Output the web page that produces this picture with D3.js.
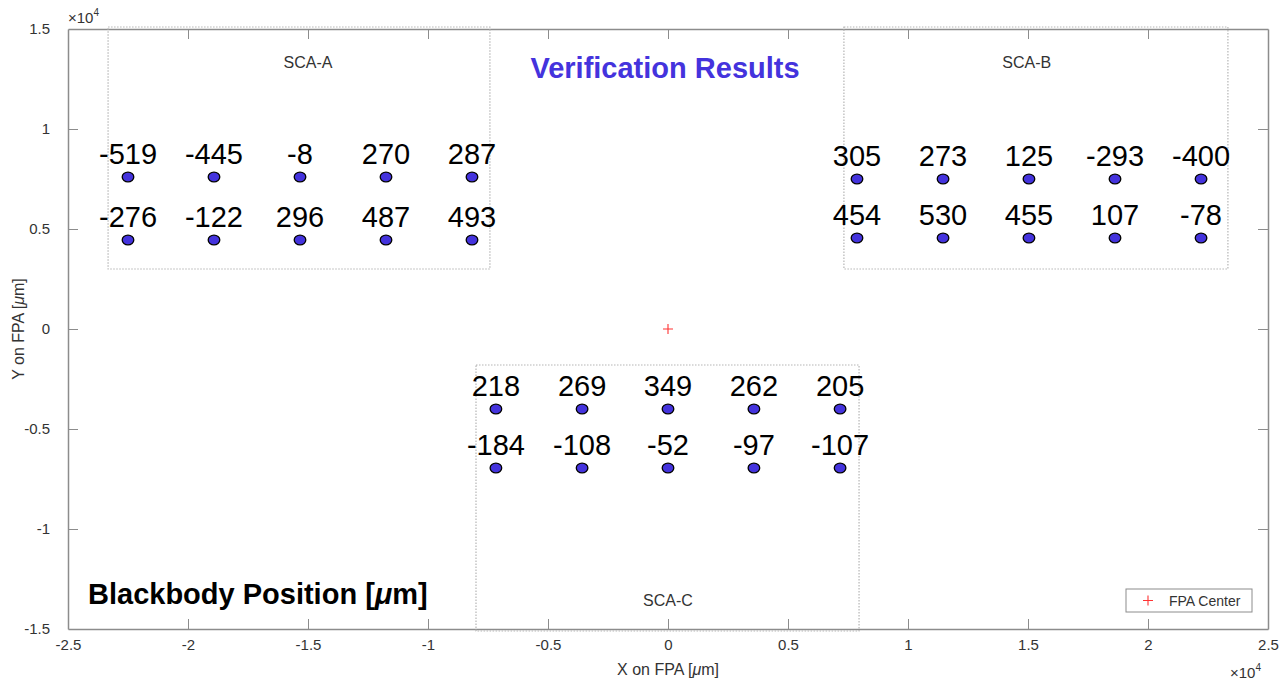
<!DOCTYPE html>
<html>
<head>
<meta charset="utf-8">
<script src="https://cdn.jsdelivr.net/npm/d3@7"></script>
<style>
  body { margin: 0; background: #fff; }
  svg { display: block; font-family: "Liberation Sans", Arial, sans-serif; }
</style>
</head>
<body>
<svg id="chart" width="1280" height="681"></svg>
<script>
// axis ticks (units of 1e4 um)
const xTicks = [-2.5, -2, -1.5, -1, -0.5, 0, 0.5, 1, 1.5, 2, 2.5];
const yTicks = [-1.5, -1, -0.5, 0, 0.5, 1, 1.5];

// sensor chip assemblies: name, x range, y range (um), label anchor (um)
const scaNames = ["SCA-A", "SCA-B", "SCA-C"];
const scaXRange = [[-23330, -7420], [7330, 23330], [-8000, 7960]];
const scaYRange = [[3000, 15100], [3000, 15100], [-15100, -1800]];
const scaLabelX = [-15000, 14950, 0];
const scaLabelY = [13050, 13050, -13850];

// measurement points per SCA
const scaPointX = [
  [-22500, -18917, -15333, -11750, -8167],
  [7875, 11460, 15040, 18625, 22210],
  [-7170, -3580, 0, 3580, 7170]
];
const scaRowY = [[7600, 4450], [7500, 4550], [-4000, -6950]];
const scaValues = [
  [[-519, -445, -8, 270, 287], [-276, -122, 296, 487, 493]],
  [[305, 273, 125, -293, -400], [454, 530, 455, 107, -78]],
  [[218, 269, 349, 262, 205], [-184, -108, -52, -97, -107]]
];

const fpaCenter = [0, 0];

const svg = d3.select("#chart");
const margin = { left: 68, right: 12, top: 29, bottom: 52 };
const W = 1280, H = 681;

const x = d3.scaleLinear().domain([-25000, 25000]).range([margin.left, W - margin.right]);
const y = d3.scaleLinear().domain([-15000, 15000]).range([H - margin.bottom, margin.top]);

const axisColor = "#8c8c8c",
      textColor = "#333",
      dotColor = "#4433dd";

// axes, box style: ticks inward on all four sides
const tickLen = 10;
function makeAxis(gen, ticks, labels) {
  return gen.tickValues(ticks.map(t => t * 1e4))
    .tickSize(-tickLen)
    .tickSizeOuter(0)
    .tickPadding(tickLen + 8)
    .tickFormat(labels ? (d => String(+(d / 1e4).toFixed(1))) : "");
}

const gx = svg.append("g").attr("transform", `translate(0,${y(-15000)})`)
  .call(makeAxis(d3.axisBottom(x), xTicks, true));
const gxTop = svg.append("g").attr("transform", `translate(0,${y(15000)})`)
  .call(makeAxis(d3.axisTop(x), xTicks, false));
const gy = svg.append("g").attr("transform", `translate(${x(-25000)},0)`)
  .call(makeAxis(d3.axisLeft(y), yTicks, true));
const gyRight = svg.append("g").attr("transform", `translate(${x(25000)},0)`)
  .call(makeAxis(d3.axisRight(y), yTicks, false));

[gx, gxTop, gy, gyRight].forEach(g => {
  g.select(".domain").attr("stroke", axisColor).attr("stroke-width", 1.5);
  g.selectAll(".tick line").attr("stroke", axisColor);
  g.selectAll(".tick text").attr("fill", textColor).style("font-size", "15px");
});
gx.selectAll(".tick text").attr("dy", "0.2em");
gy.selectAll(".tick text").attr("dy", "0.32em");
gx.selectAll(".tick line").filter(d => d === -25000 || d === 25000).remove();
gxTop.selectAll(".tick line").filter(d => d === -25000 || d === 25000).remove();
gy.selectAll(".tick line").filter(d => d === -15000 || d === 15000).remove();
gyRight.selectAll(".tick line").filter(d => d === -15000 || d === 15000).remove();

// exponent labels
function exponent(xp, yp) {
  const t = svg.append("text").attr("x", xp).attr("y", yp)
    .attr("fill", textColor).style("font-size", "15px");
  t.append("tspan").text("\u00d710");
  t.append("tspan").attr("dy", -7).style("font-size", "10px").text("4");
}
exponent(x(-25000), 23);
exponent(1230, 678);

// axis labels
function axisLabel(sel) {
  sel.append("tspan").text("on FPA [");
  sel.append("tspan").style("font-style", "italic").text("\u03bc");
  sel.append("tspan").text("m]");
}
const xl = svg.append("text").attr("x", x(0)).attr("y", 675).attr("text-anchor", "middle")
  .attr("fill", textColor).style("font-size", "16px");
xl.append("tspan").text("X ");
axisLabel(xl);
const yl = svg.append("text").attr("transform", `translate(24,${y(0)}) rotate(-90)`)
  .attr("text-anchor", "middle").attr("fill", textColor).style("font-size", "16px");
yl.append("tspan").text("Y ");
axisLabel(yl);

// SCA outlines
const gSca = svg.append("g");
scaNames.forEach((name, i) => {
  const [x0, x1] = scaXRange[i], [y0, y1] = scaYRange[i];
  gSca.append("rect")
    .attr("x", x(x0)).attr("y", y(y1))
    .attr("width", x(x1) - x(x0)).attr("height", y(y0) - y(y1))
    .attr("fill", "none").attr("stroke", "#b5b5b5")
    .attr("stroke-width", 1.2).attr("stroke-dasharray", "1.5,1.5");
  gSca.append("text")
    .attr("x", x(scaLabelX[i])).attr("y", y(scaLabelY[i]))
    .attr("text-anchor", "middle").attr("fill", textColor)
    .style("font-size", "16px").text(name);
});

// measurement points and values
const pts = [];
scaNames.forEach((name, i) => {
  scaValues[i].forEach((row, r) => {
    row.forEach((v, k) => pts.push({ x: scaPointX[i][k], y: scaRowY[i][r], v: v }));
  });
});

const gPts = svg.append("g");
gPts.selectAll("text").data(pts).join("text")
  .attr("x", d => x(d.x))
  .attr("y", d => y(d.y) - 13)
  .attr("text-anchor", "middle")
  .attr("fill", "#000")
  .style("font-size", "29px")
  .text(d => d.v);

gPts.selectAll("ellipse").data(pts).join("ellipse")
  .attr("cx", d => x(d.x)).attr("cy", d => y(d.y))
  .attr("rx", 5.8).attr("ry", 4.8)
  .attr("fill", dotColor).attr("stroke", "#000").attr("stroke-width", 1.3);

// FPA center marker
function plus(g, cx, cy, s) {
  g.append("path")
    .attr("d", `M${cx - s},${cy}H${cx + s}M${cx},${cy - s}V${cy + s}`)
    .attr("stroke", "#ff3333").attr("stroke-width", 1.1);
}
plus(svg, x(fpaCenter[0]), y(fpaCenter[1]), 5);

// title and note
svg.append("text").attr("x", 665).attr("y", 78).attr("text-anchor", "middle")
  .attr("fill", dotColor).style("font-size", "29px").style("font-weight", "bold")
  .text("Verification Results");

const note = svg.append("text").attr("x", 88).attr("y", 604)
  .attr("fill", "#000").style("font-size", "29px").style("font-weight", "bold");
note.append("tspan").text("Blackbody Position [");
note.append("tspan").style("font-style", "italic").text("\u03bc");
note.append("tspan").text("m]");

// legend
const lg = svg.append("g").attr("transform", "translate(1126,589)");
lg.append("rect").attr("width", 126).attr("height", 23)
  .attr("fill", "#fff").attr("stroke", axisColor).attr("stroke-width", 1);
plus(lg, 22, 11.5, 5);
lg.append("text").attr("x", 43).attr("y", 17).attr("fill", textColor)
  .style("font-size", "14px").text("FPA Center");
</script>
</body>
</html>
